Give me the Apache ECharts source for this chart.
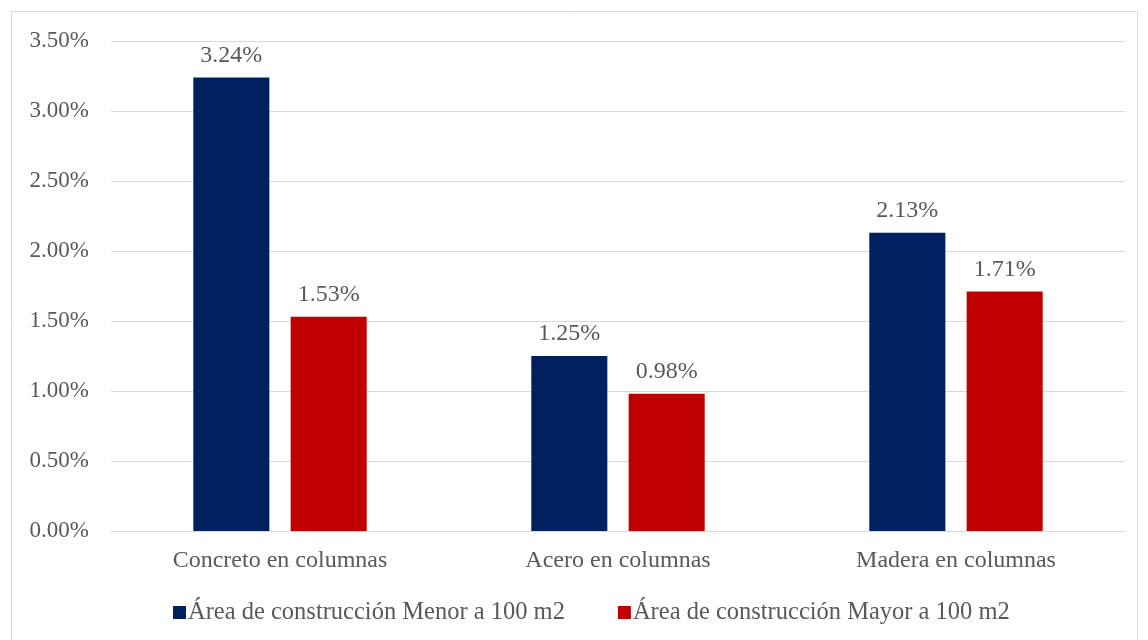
<!DOCTYPE html>
<html>
<head>
<meta charset="UTF-8">
<title>Chart</title>
<script src="https://cdn.jsdelivr.net/npm/echarts@6/dist/echarts.min.js"></script>
<style>
html,body{margin:0;padding:0;width:100%;height:100%;background:#fff;}
#chart{width:1148px;height:640px;}
</style>
</head>
<body>
<div id="chart"></div>
<script>
var categories = ['Concreto en columnas', 'Acero en columnas', 'Madera en columnas'];
var menor = [3.24, 1.25, 2.13];
var mayor = [1.53, 0.98, 1.71];
var seriesNames = ['Área de construcción Menor a 100 m2', 'Área de construcción Mayor a 100 m2'];

var chart = echarts.init(document.getElementById('chart'));
var font = '"Liberation Serif", "Times New Roman", serif';
var txt = '#595959';

function pct(v) { return v.toFixed(2) + '%'; }

var lbl = {
    show: true, position: 'top', distance: 10, color: txt, fontSize: 24, fontFamily: font,
    formatter: function (p) { return pct(p.value); }
};

chart.setOption({
    textStyle: { fontFamily: font },
    graphic: [{
        type: 'rect',
        shape: { x: 11.5, y: 11.5, width: 1126, height: 640 },
        style: { fill: 'none', stroke: '#d9d9d9', lineWidth: 1 }
    }],
    grid: { left: 111, right: 23, top: 41, bottom: 109 },
    legend: {
        top: 595,
        left: 168,
        itemWidth: 13,
        itemHeight: 13,
        itemGap: 53,
        icon: 'rect',
        textStyle: { color: txt, fontSize: 24.5, fontFamily: font, padding: [0, 0, 0, -3] },
        data: seriesNames
    },
    xAxis: {
        type: 'category',
        data: categories,
        axisLine: { lineStyle: { color: '#d9d9d9' } },
        axisTick: { show: false },
        axisLabel: { color: txt, fontSize: 24, fontFamily: font, margin: 18 }
    },
    yAxis: {
        type: 'value',
        min: 0,
        max: 3.5,
        interval: 0.5,
        axisLine: { show: false },
        axisTick: { show: false },
        splitLine: { lineStyle: { color: '#d9d9d9' } },
        axisLabel: { color: txt, fontSize: 23, fontFamily: font, margin: 22, formatter: pct }
    },
    series: [{
        name: seriesNames[0],
        type: 'bar',
        data: menor,
        barWidth: '22.5%',
        barGap: '28%',
        itemStyle: { color: '#002060' },
        label: lbl
    }, {
        name: seriesNames[1],
        type: 'bar',
        data: mayor,
        barWidth: '22.5%',
        itemStyle: { color: '#C00000' },
        label: lbl
    }]
});
</script>
</body>
</html>
